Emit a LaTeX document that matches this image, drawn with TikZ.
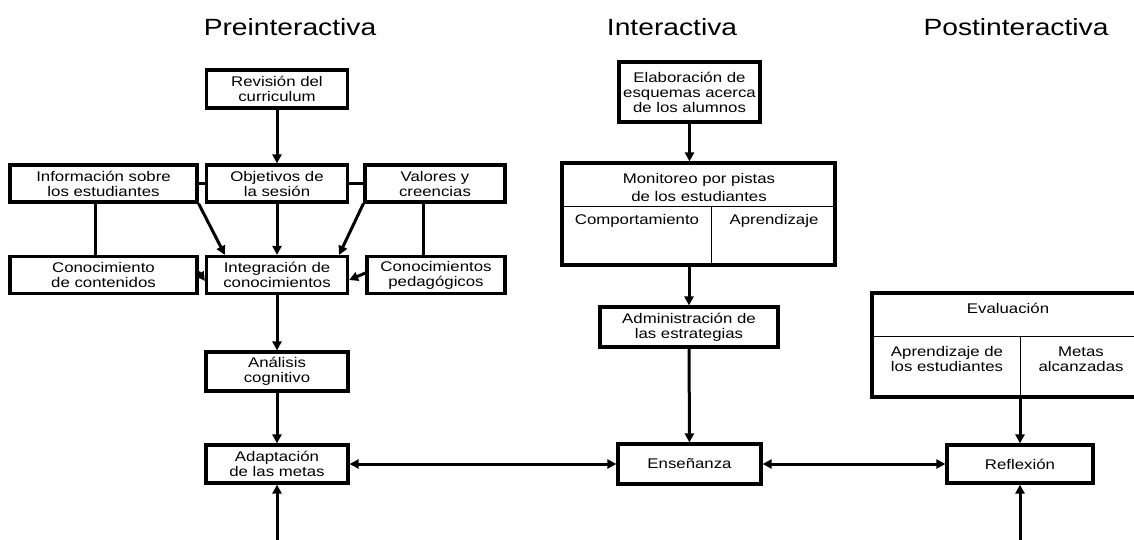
\documentclass[tikz,border=0pt]{standalone}
\usepackage{fontspec}
\setmainfont[FakeStretch=1.2]{Liberation Sans}
\usetikzlibrary{calc}
\usetikzlibrary{arrows.meta}

\begin{document}
\begin{tikzpicture}[x=1pt,y=-1pt]

\tikzset{
    caja/.style = {
    draw, line width=3.2pt,
    align=center, inner sep=0pt,
    font=\fontsize{14}{15}\selectfont
    }
}

\tikzstyle{chica}=[caja, minimum width=141pt, minimum height=38pt]
\tikzstyle{ancha}=[caja, minimum width=187pt, minimum height=37pt]
\tikzstyle{fase}=[inner sep=0pt, font=\fontsize{23.5}{26}\selectfont]
\tikzstyle{texto}=[align=center, inner sep=0pt, font=\fontsize{14}{15}\selectfont]
\tikzstyle{linea}=[line width=3pt]
\tikzstyle{flecha}=[linea, -{Triangle[length=9pt,width=9pt]}]
\tikzstyle{flechas}=[linea, {Triangle[length=9pt,width=9pt]}-{Triangle[length=9pt,width=9pt]}]
\tikzstyle{division}=[line width=1pt]

\useasboundingbox (0,0) rectangle (1134,539);

% fases
\node (t-pre) [fase] at (290,27) {Preinteractiva};
\node (t-inter) [fase] at (672,27) {Interactiva};
\node (t-post) [fase] at (1016,27) {Postinteractiva};

% preinteractiva
\node (revision) [chica] at (277,89) {Revisión del\\curriculum};
\node (info) [ancha] at (103.5,183.5) {Información sobre\\los estudiantes};
\node (objetivos) [chica, minimum height=37pt] at (277,183.5) {Objetivos de\\la sesión};
\node (valores) [chica, minimum width=140pt, minimum height=37pt] at (435,183.5) {Valores y\\creencias};
\node (contenidos) [ancha] at (103.5,275) {Conocimiento\\de contenidos};
\node (integracion) [chica, minimum height=37pt] at (277,275) {Integración de\\conocimientos};
\node (pedagogicos) [chica, minimum width=138pt, minimum height=37pt] at (436,275) {Conocimientos\\pedagógicos};
\node (analisis) [chica, minimum width=142pt, minimum height=39pt] at (277,371.5) {Análisis\\cognitivo};
\node (adaptacion) [chica, minimum width=142pt] at (277,464) {Adaptación\\de las metas};

% interactiva
\node (elaboracion) [chica, minimum height=60pt] at (689.5,92) {Elaboración de\\esquemas acerca\\de los alumnos};
\node (monitoreo) [caja, minimum width=273pt, minimum height=102pt] at (698.5,214) {};
\node (monitoreo-t) [texto, font=\fontsize{14}{18.5}\selectfont] at (699,187.5) {Monitoreo por pistas\\de los estudiantes};
\node (monitoreo-c) [texto] at (637,221) {Comportamiento};
\node (monitoreo-a) [texto] at (774,221) {Aprendizaje};
\node (administracion) [chica, minimum width=178pt, minimum height=40pt] at (689,327) {Administración de\\las estrategias};
\node (ensenanza) [chica, minimum width=143pt, minimum height=40pt] at (689.5,464) {Enseñanza};

% postinteractiva
\node (evaluacion) [caja, minimum width=268pt, minimum height=104pt] at (1006,345) {};
\node (evaluacion-t) [texto] at (1008,308) {Evaluación};
\node (evaluacion-e) [texto] at (947,359) {Aprendizaje de\\los estudiantes};
\node (evaluacion-m) [texto] at (1081,359) {Metas\\alcanzadas};
\node (reflexion) [chica, minimum width=146pt] at (1020,464) {Reflexión};

\coordinate (abajo-izq) at (277,545);
\coordinate (abajo-der) at (1020,545);

% divisiones
\draw[division] ($(monitoreo.north west)+(0,45)$) -- ($(monitoreo.north east)+(0,45)$);
\draw[division] ($(monitoreo.north west)+(151,45)$) -- ($(monitoreo.south west)+(151,0)$);
\draw[division] ($(evaluacion.north west)+(0,45)$) -- ($(evaluacion.north east)+(0,45)$);
\draw[division] ($(evaluacion.north west)+(150,45)$) -- ($(evaluacion.south west)+(150,0)$);

% conexiones
\draw[linea] (info.east) -- (objetivos.west);
\draw[linea] (objetivos.east) -- (valores.west);
\draw[linea] ([xshift=-8pt]info.south) -- ([xshift=-8pt]info.south |- contenidos.north);
\draw[linea] ([xshift=-12pt]valores.south) -- ([xshift=-12pt]valores.south |- pedagogicos.north);

\draw[flecha] (revision) -- (objetivos);
\draw[flecha] (objetivos) -- (integracion);
\draw[flecha] (info.south east) -- ([xshift=20pt]integracion.north west);
\draw[flecha] (valores.south west) -- ([xshift=-10pt]integracion.north east);
\draw[flecha] ([yshift=3pt]contenidos.east) -- ([yshift=-6pt]integracion.west);
\draw[flecha] ([yshift=2pt]pedagogicos.west) -- ([yshift=-5pt]integracion.east);
\draw[flecha] (integracion) -- (analisis);
\draw[flecha] (analisis) -- (adaptacion);
\draw[flecha] (abajo-izq) -- (adaptacion.south);

\draw[flecha] (elaboracion.south) -- (elaboracion.south |- monitoreo.north);
\draw[flecha] (administracion.north |- monitoreo.south) -- (administracion.north);
\draw[flecha] (administracion) -- (ensenanza);

\draw[flecha] (reflexion.north |- evaluacion.south) -- (reflexion.north);
\draw[flecha] (abajo-der) -- (reflexion.south);

\draw[flechas] (adaptacion) -- (ensenanza);
\draw[flechas] (ensenanza) -- (reflexion);

\end{tikzpicture}
\end{document}
